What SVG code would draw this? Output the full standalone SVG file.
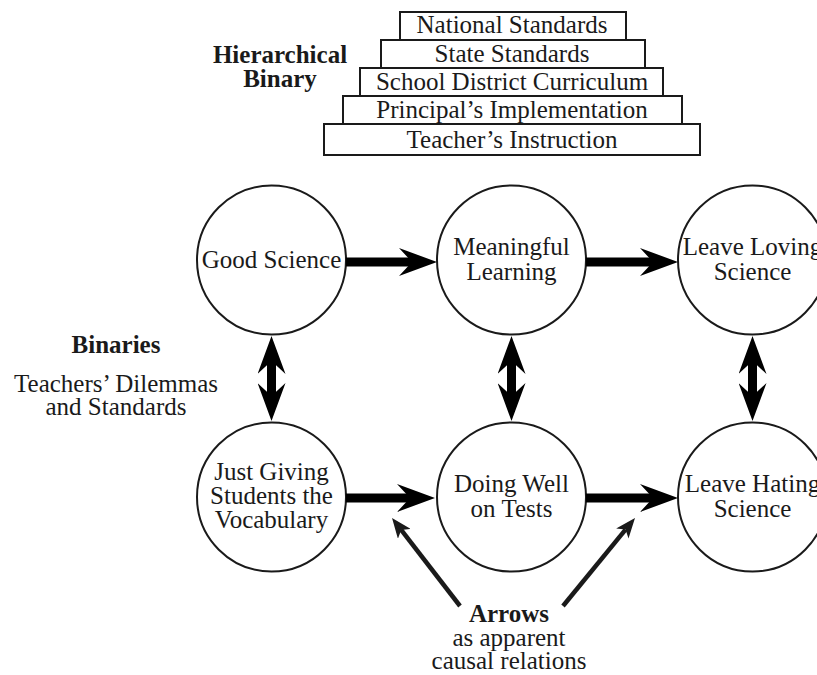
<svg xmlns="http://www.w3.org/2000/svg" width="817" height="675" viewBox="0 0 817 675">
<style>
text{font-family:"Liberation Serif","Times New Roman",serif;font-size:25px;fill:#1a1a1a;text-anchor:middle}
.b{font-weight:bold}
.box{fill:#fff;stroke:#1a1a1a;stroke-width:2}
.node{fill:#fff;stroke:#1a1a1a;stroke-width:2}
.thick{stroke:#000;stroke-width:9;fill:none}
.thin{stroke:#1a1a1a;stroke-width:4.5;fill:none}
</style>
<defs>
<marker id="hd" viewBox="0 0 38 28" refX="13" refY="14" markerWidth="38" markerHeight="28" markerUnits="userSpaceOnUse" orient="auto-start-reverse">
<path d="M0,0 L38,14 L0,28 L13,14 Z" fill="#000"/>
</marker>
<marker id="th" viewBox="0 0 20 16" refX="5" refY="8" markerWidth="20" markerHeight="16" markerUnits="userSpaceOnUse" orient="auto">
<path d="M0,0 L20,8 L0,16 L5,8 Z" fill="#1a1a1a"/>
</marker>
</defs>
<rect width="817" height="675" fill="#fff"/>

<g id="hierarchy">
<rect class="box" x="400" y="12" width="226" height="28"/>
<rect class="box" x="381" y="40" width="264" height="28"/>
<rect class="box" x="360" y="68" width="303" height="28"/>
<rect class="box" x="343" y="96" width="339" height="28"/>
<rect class="box" x="324" y="124" width="376" height="31"/>
<text x="512" y="33">National Standards</text>
<text x="512" y="62">State Standards</text>
<text x="512" y="90">School District Curriculum</text>
<text x="512" y="118">Principal’s Implementation</text>
<text x="512" y="148">Teacher’s Instruction</text>
</g>
<g id="label-hierarchical">
<text class="b" x="280" y="63">Hierarchical</text>
<text class="b" x="280" y="87">Binary</text>
</g>
<g id="label-binaries">
<text class="b" x="116" y="353">Binaries</text>
<text x="116" y="392">Teachers’ Dilemmas</text>
<text x="116" y="415">and Standards</text>
</g>
<g id="label-arrows">
<text class="b" x="509" y="622">Arrows</text>
<text x="509" y="646">as apparent</text>
<text x="509" y="669">causal relations</text>
</g>

<g id="good-science">
<circle class="node" cx="271.5" cy="260" r="74.5"/>
<text x="271.5" y="268">Good Science</text>
</g>
<g id="meaningful-learning">
<circle class="node" cx="511.5" cy="260" r="74.5"/>
<text x="511.5" y="255">Meaningful</text>
<text x="511.5" y="280">Learning</text>
</g>
<g id="leave-loving">
<circle class="node" cx="752.5" cy="260" r="74.5"/>
<text x="752.5" y="255">Leave Loving</text>
<text x="752.5" y="280">Science</text>
</g>
<g id="just-giving">
<circle class="node" cx="271.5" cy="497" r="74.5"/>
<text x="271.5" y="480">Just Giving</text>
<text x="271.5" y="504">Students the</text>
<text x="271.5" y="528">Vocabulary</text>
</g>
<g id="doing-well">
<circle class="node" cx="511.5" cy="497" r="74.5"/>
<text x="511.5" y="492">Doing Well</text>
<text x="511.5" y="517">on Tests</text>
</g>
<g id="leave-hating">
<circle class="node" cx="752.5" cy="497" r="74.5"/>
<text x="752.5" y="492">Leave Hating</text>
<text x="752.5" y="517">Science</text>
</g>

<g id="connectors">
<line class="thick" x1="346" y1="262" x2="412" y2="262" marker-end="url(#hd)"/>
<line class="thick" x1="586" y1="262" x2="653" y2="262" marker-end="url(#hd)"/>
<line class="thick" x1="346" y1="498" x2="410" y2="498" marker-end="url(#hd)"/>
<line class="thick" x1="586" y1="498" x2="653" y2="498" marker-end="url(#hd)"/>
<line class="thick" x1="271.5" y1="361" x2="271.5" y2="396" marker-start="url(#hd)" marker-end="url(#hd)"/>
<line class="thick" x1="511.5" y1="361" x2="511.5" y2="396" marker-start="url(#hd)" marker-end="url(#hd)"/>
<line class="thick" x1="752.5" y1="361" x2="752.5" y2="396" marker-start="url(#hd)" marker-end="url(#hd)"/>
<line class="thin" x1="460" y1="606" x2="401.2" y2="529.9" marker-end="url(#th)"/>
<line class="thin" x1="563" y1="606" x2="625.5" y2="529.6" marker-end="url(#th)"/>
</g>
</svg>
